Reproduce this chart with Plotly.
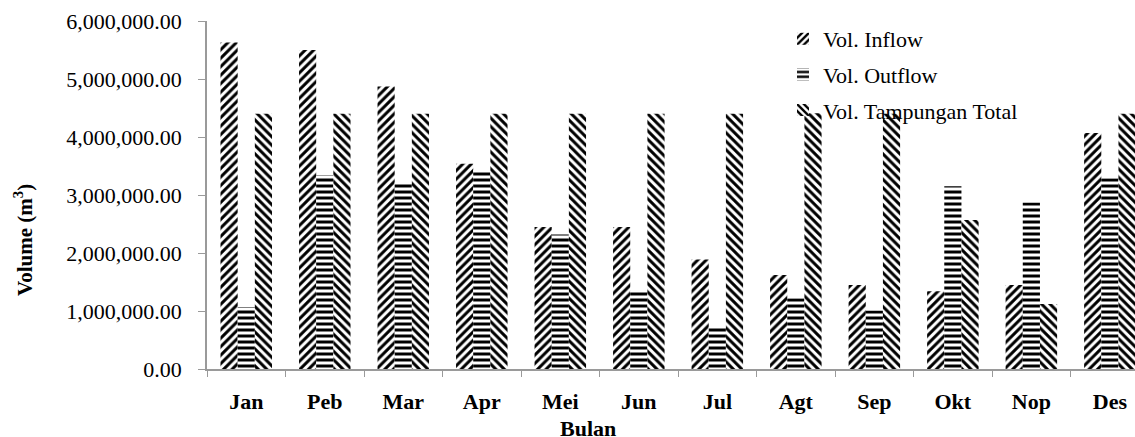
import plotly.graph_objects as go

# Monthly reservoir volumes (m3)
bulan = ["Jan", "Peb", "Mar", "Apr", "Mei", "Jun", "Jul", "Agt", "Sep", "Okt", "Nop", "Des"]
vol_inflow = [5630000, 5500000, 4870000, 3540000, 2450000, 2450000, 1890000, 1620000, 1450000, 1340000, 1450000, 4070000]
vol_outflow = [1070000, 3340000, 3220000, 3430000, 2320000, 1350000, 730000, 1220000, 1010000, 3150000, 2870000, 3290000]
vol_tampungan = [4400000, 4400000, 4400000, 4400000, 4400000, 4400000, 4400000, 4410000, 4400000, 2570000, 1120000, 4400000]

SERIF = "Liberation Serif"
FS = 22
AXIS_GREY = "#9a9a9a"

series = [
    ("Vol. Inflow", vol_inflow, "/"),
    ("Vol. Outflow", vol_outflow, "-"),
    ("Vol. Tampungan Total", vol_tampungan, "\\"),
]

fig = go.Figure()
for i, (name, values, shape) in enumerate(series):
    fig.add_trace(go.Bar(
        name=name,
        x=bulan,
        y=values,
        legendgroup=f"g{i}",
        marker=dict(
            color="white",
            line=dict(width=0),
            pattern=dict(shape=shape, fgcolor="black", bgcolor="white",
                         size=6, solidity=0.5, fillmode="replace"),
        ),
    ))

# plot area in pixels: left 207, top 21, bottom 369 (window 1135 x 437)
H_PLOT = 437 - 21 - 68

def py(px):
    return (437 - 68 - px) / H_PLOT

def px_(x):
    return (x - 207) / (1135 - 207)

fig.update_layout(
    width=1135,
    height=437,
    margin=dict(l=207, r=0, t=21, b=68),
    paper_bgcolor="white",
    plot_bgcolor="white",
    barmode="group",
    bargap=0.344,
    bargroupgap=0,
    font=dict(family=SERIF, size=FS, color="black"),
    legend=dict(
        x=px_(783), y=py(18), xanchor="left", yanchor="top",
        bgcolor="rgba(255,255,255,0)",
        font=dict(family=SERIF, size=FS, color="black"),
        traceorder="grouped",
        tracegroupgap=4,
    ),
    xaxis=dict(
        type="category",
        range=[-0.5, 11.32],
        showline=True, linecolor=AXIS_GREY, linewidth=1.5,
        ticks="outside", tickson="boundaries", ticklen=6, tickcolor=AXIS_GREY,
        tickfont=dict(family=SERIF, size=FS, color="black", weight="bold"),
        ticklabelstandoff=12,
        showgrid=False, zeroline=False,
    ),
    yaxis=dict(
        range=[0, 6000000],
        tickvals=[0, 1000000, 2000000, 3000000, 4000000, 5000000, 6000000],
        tickformat=",.2f",
        showline=True, linecolor=AXIS_GREY, linewidth=1.5,
        ticks="outside", ticklen=7, tickcolor=AXIS_GREY,
        tickfont=dict(family=SERIF, size=FS, color="black"),
        ticklabelstandoff=12,
        showgrid=False, zeroline=False,
    ),
    annotations=[
        dict(text="<b>Volume (m<sup>3</sup>)</b>", textangle=-90,
             xref="paper", yref="paper", x=px_(23), y=py(240),
             xanchor="center", yanchor="middle", showarrow=False,
             font=dict(family=SERIF, size=21, color="black")),
        dict(text="<b>Bulan</b>",
             xref="paper", yref="paper", x=px_(588), y=py(428),
             xanchor="center", yanchor="middle", showarrow=False,
             font=dict(family=SERIF, size=FS, color="black")),
    ],
)

fig.write_html("out.html")
